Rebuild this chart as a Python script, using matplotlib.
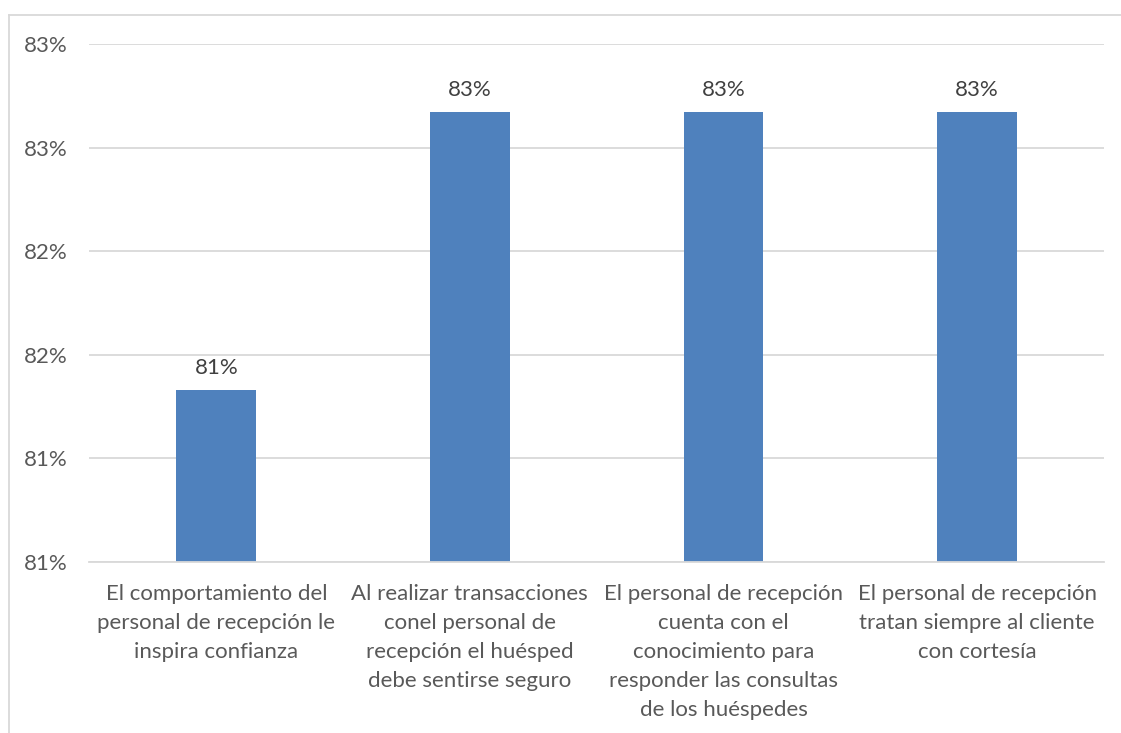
import matplotlib.pyplot as plt

categories = [
    "El comportamiento del\npersonal de recepción le\ninspira confianza",
    "Al realizar transacciones\nconel personal de\nrecepción el huésped\ndebe sentirse seguro",
    "El personal de recepción\ncuenta con el\nconocimiento para\nresponder las consultas\nde los huéspedes",
    "El personal de recepción\ntratan siempre al cliente\ncon cortesía",
]
values = [0.8133, 0.8267, 0.8267, 0.8267]
y_ticks = [0.805, 0.81, 0.815, 0.82, 0.825, 0.83]
y_tick_labels = ["81%", "81%", "82%", "82%", "83%", "83%"]
value_labels = ["81%", "83%", "83%", "83%"]

plt.rcParams['font.family'] = ['Lato', 'DejaVu Sans']
text_color = "#595959"

fig = plt.figure(figsize=(11.21, 7.33), dpi=100)
ax = fig.add_axes([0.0798, 0.2333, 0.9049, 0.7067])

x = list(range(len(categories)))
bars = ax.bar(x, values, width=0.315, color="#4F81BD", zorder=3)

ax.set_xlim(-0.5, len(categories) - 0.5)
ax.set_ylim(0.805, 0.83)
ax.set_yticks(y_ticks)
ax.set_yticklabels(y_tick_labels)
ax.set_xticks(x)
ax.set_xticklabels(categories, linespacing=1.56)

ax.grid(axis="y", color="#D9D9D9", linewidth=1.3, zorder=0)
for s in ax.spines.values():
    s.set_visible(False)
ax.tick_params(axis="both", length=0, labelsize=16, labelcolor=text_color)
ax.tick_params(axis="y", pad=16)
ax.tick_params(axis="x", pad=16)
ax.axhline(0.805, color="#D9D9D9", linewidth=1.3, zorder=4, clip_on=False)

for b, lab in zip(bars, value_labels):
    ax.annotate(lab, (b.get_x() + b.get_width() / 2, b.get_height()),
                xytext=(0, 9), textcoords="offset points",
                ha="center", va="bottom", fontsize=16, color="#404040")

# outer chart frame (only left and top edges are inside the picture)
fig.add_artist(plt.Line2D([8.5 / 1121, 8.5 / 1121], [0, 1 - 15 / 733],
                          transform=fig.transFigure, color="#D9D9D9", linewidth=1.3))
fig.add_artist(plt.Line2D([8.5 / 1121, 1], [1 - 15 / 733, 1 - 15 / 733],
                          transform=fig.transFigure, color="#D9D9D9", linewidth=1.3))

fig.savefig("out.png", dpi=100)
